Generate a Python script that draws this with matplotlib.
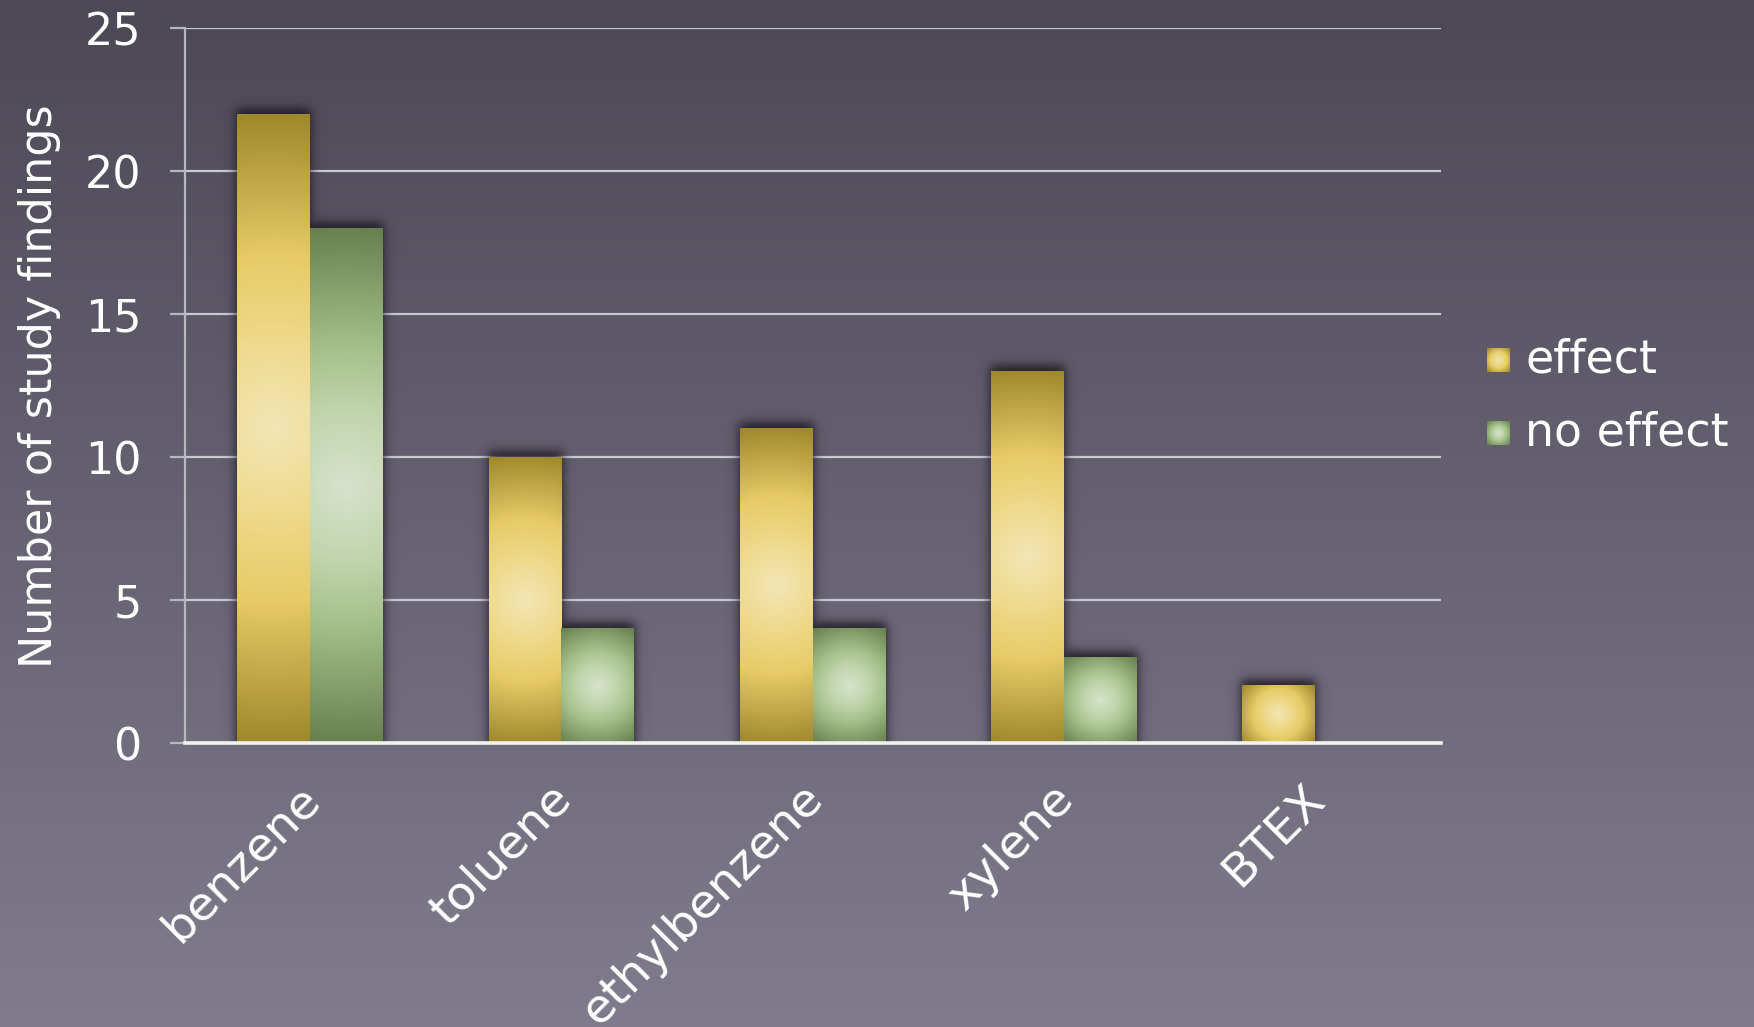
import numpy as np
import matplotlib.pyplot as plt
from matplotlib.colors import LinearSegmentedColormap
from matplotlib.transforms import ScaledTranslation

# -------------------------------------------------
# data
# -------------------------------------------------
categories = ["benzene", "toluene", "ethylbenzene", "xylene", "BTEX"]
effect = [22, 10, 11, 13, 2]
no_effect = [18, 4, 4, 3, 0]
y_ticks = [0, 5, 10, 15, 20, 25]
series_names = ["effect", "no effect"]

plt.rcParams["font.family"] = ["DejaVu Sans"]
FS = 32

gold = LinearSegmentedColormap.from_list(
    "gold", [(0, "#f3e6b6"), (0.3, "#eed888"), (0.55, "#e6cb66"), (1, "#9e882c")])
green = LinearSegmentedColormap.from_list(
    "green", [(0, "#d8e2cc"), (0.3, "#c0d4ac"), (0.55, "#a2bf88"), (1, "#66804e")])

fig = plt.figure(figsize=(17.54, 10.27), dpi=100)

# background gradient
bg = fig.add_axes([0, 0, 1, 1], zorder=-10)
bg.axis("off")
bg_cmap = LinearSegmentedColormap.from_list("bg", ["#4c4856", "#817c8d"])
bg.imshow(np.linspace(0, 1, 256)[:, None], aspect="auto", cmap=bg_cmap,
          extent=[0, 1, 0, 1], origin="upper")

ax = fig.add_axes([0.1052, 0.2765, 0.7163, 0.6958])
ax.patch.set_alpha(0)
ax.set_xlim(-0.5, len(categories) - 0.5)
ax.set_ylim(0, 25)
ax.set_autoscale_on(False)


def radial_image(w, h):
    xs = np.linspace(-w / 2, w / 2, max(int(w), 2))
    ys = np.linspace(-h / 2, h / 2, max(int(h), 2))
    X, Y = np.meshgrid(xs, ys)
    return np.hypot(X, Y) / np.hypot(w / 2, h / 2)


def soft_step(u, s):
    return 0.5 * (1 + np.tanh(u / s))


def draw_bar(x0, x1, top, cmap):
    p0 = ax.transData.transform((x0, 0))
    p1 = ax.transData.transform((x1, top))
    w, h = p1 - p0
    # blurred shadow, pushed slightly upward
    s, lift, pad = 6.5, 6.0, 26.0
    nx, ny = int(w + 2 * pad), int(h + pad)
    px = np.linspace(-pad, w + pad, nx)
    py = np.linspace(0, h + pad, ny)
    PX, PY = np.meshgrid(px, py)
    a = (soft_step(PX + 1, s) * soft_step(w + 1 - PX, s) *
         soft_step(h + lift - PY, s))
    rgba = np.zeros((ny, nx, 4))
    rgba[..., 0:3] = [0.10, 0.08, 0.12]
    rgba[..., 3] = 0.9 * a
    dx = pad / w * (x1 - x0)
    dy = pad / h * top
    ax.imshow(rgba, extent=[x0 - dx, x1 + dx, 0, top + dy], origin="lower",
              aspect="auto", zorder=2, interpolation="bilinear")
    ax.imshow(radial_image(w, h), cmap=cmap, vmin=0, vmax=1,
              extent=[x0, x1, 0, top], aspect="auto", zorder=3,
              interpolation="bilinear")


bw = 0.29
for i in range(len(categories)):
    if effect[i] > 0:
        draw_bar(i - bw, i, effect[i], gold)
    if no_effect[i] > 0:
        draw_bar(i, i + bw, no_effect[i], green)

# axes styling
ax.set_yticks(y_ticks)
ax.yaxis.grid(True, color="#cac8d0", linewidth=1.6, zorder=1)
ax.set_axisbelow(True)
for side in ["top", "right"]:
    ax.spines[side].set_visible(False)
ax.spines["left"].set_color("#b8b6be")
ax.spines["left"].set_linewidth(1.6)
ax.spines["bottom"].set_color("#f2f2f2")
ax.spines["bottom"].set_linewidth(2.6)
ax.spines["bottom"].set_zorder(6)
ax.tick_params(axis="y", length=11, width=1.6, color="#b8b6be", pad=20,
               labelsize=FS, labelcolor="white")
ax.tick_params(axis="x", length=0, pad=0, labelsize=FS + 2, labelcolor="white")
ax.set_xticks(range(len(categories)))
ax.set_xticklabels(categories, rotation=45, ha="right", va="top",
                   rotation_mode="anchor")
shift = ScaledTranslation(-13 / 100, -33 / 100, fig.dpi_scale_trans)
for lbl in ax.get_xticklabels():
    lbl.set_transform(lbl.get_transform() + shift)

ax.set_ylabel("Number of study findings", fontsize=FS, color="white")
ax.yaxis.set_label_coords(-0.098, 0.5)

# legend swatches and labels
W, H = 1754, 1027
for k, (name, cmap) in enumerate(zip(series_names, [gold, green])):
    top = 348 + k * 73
    sw = fig.add_axes([1487 / W, 1 - (top + 24) / H, 23 / W, 24 / H])
    sw.axis("off")
    sw.imshow(radial_image(23, 24), cmap=cmap, vmin=0, vmax=1,
              aspect="auto", interpolation="bilinear")
    fig.text(1525 / W, 1 - (top + 12) / H, name, fontsize=FS + 1,
             color="white", va="center", ha="left")

fig.savefig("out.png", dpi=100)
